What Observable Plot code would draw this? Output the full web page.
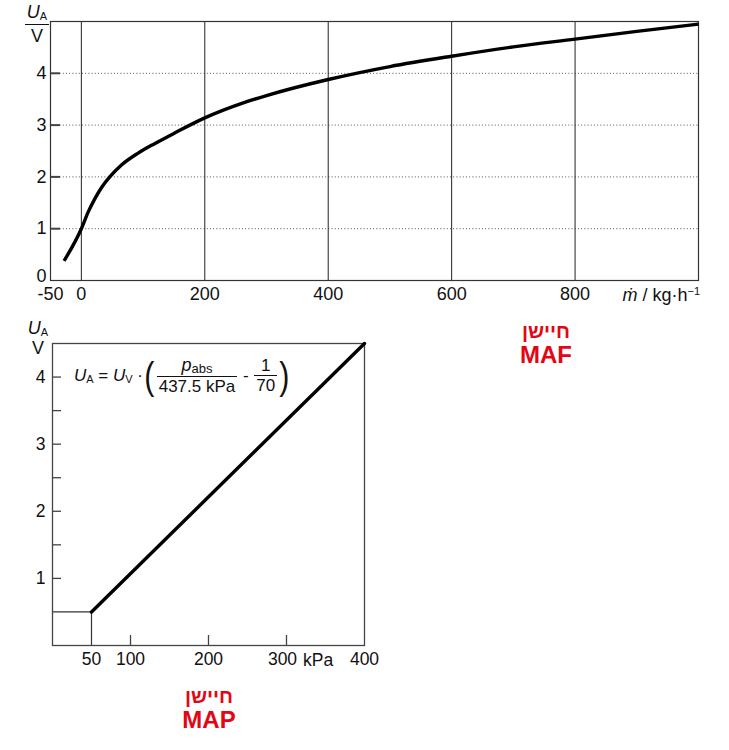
<!DOCTYPE html>
<html>
<head>
<meta charset="utf-8">
<script src="https://cdn.jsdelivr.net/npm/d3@7"></script>
<script src="https://cdn.jsdelivr.net/npm/@observablehq/plot@0.6"></script>
<style>
  body { margin: 0; background: #fff; }
  #root { position: relative; width: 729px; height: 750px; background: #fff; font-family: "Liberation Sans", Arial, sans-serif; color: #111; overflow: hidden; }
  #top svg text { font-size: 18px; }
  #bottom svg text { font-size: 17.5px; }
  .abs { position: absolute; }
  .ylab { text-align: center; font-size: 18px; line-height: 1; }
  .ylab i { font-style: italic; }
  .ylab sub, .formula sub { font-size: 11px; vertical-align: -2px; font-style: normal; }
  .formula { display: flex; align-items: center; font-size: 17px; white-space: nowrap; }
  .frac { display: inline-flex; flex-direction: column; align-items: center; margin: 0 3px; line-height: 1; }
  .frac .num { border-bottom: 1px solid #111; padding: 0 2px 1px 2px; width: 100%; text-align: center; }
  .frac .den { padding-top: 1px; }
  .paren { font-size: 38px; font-weight: 300; line-height: 1; transform: scaleX(0.8); }
  .red { color: #e30613; font-weight: bold; text-align: center; line-height: 1; }
</style>
</head>
<body>
<div id="root">
  <div id="top" class="abs" style="left:0;top:0"></div>
  <div id="bottom" class="abs" style="left:0;top:310px"></div>
</div>
<script>
// ---- MAF (air-mass flow) sensor curve ----
const mafFlow    = [-28, 0, 11, 22, 33, 46, 65, 92, 120, 150, 200, 260, 300, 400, 500, 600, 700, 800, 900, 1000];
const mafVoltage = [0.38, 1.0, 1.32, 1.58, 1.80, 2.00, 2.23, 2.46, 2.65, 2.84, 3.14, 3.42, 3.57, 3.88, 4.13, 4.33, 4.51, 4.66, 4.81, 4.95];
const mafXDomain = [-50, 1000];
const mafYDomain = [0, 5];
const mafXTickLabels = [-50, 0, 200, 400, 600, 800];
const mafXGrid = [0, 200, 400, 600, 800];
const mafYTickLabels = [1, 2, 3, 4];
const mafYZeroLabel = [0];
const mafYGrid = [1, 2, 3, 4];

// ---- MAP (manifold absolute pressure) sensor line ----
const mapPressure = [50, 400];
const mapVoltage  = [0.5, 4.5];
const mapXDomain = [0, 400];
const mapYDomain = [0, 4.5];
const mapXTickLabels = [50, 100, 200, 400];
const mapXTickLabelNearUnit = [300];
const mapXTicks = [100, 200, 300];
const mapYTickLabels = [1, 2, 3, 4];
const mapYTicks = [1, 1.5, 2, 2.5, 3, 3.5, 4];

// ---- texts ----
const mafTitleHe = "חיישן";
const mafTitleEn = "MAF";
const mapTitleHe = "חיישן";
const mapTitleEn = "MAP";

const mafData = mafFlow.map((x, i) => ({x, u: mafVoltage[i]}));
const mapData = mapPressure.map((p, i) => ({p, u: mapVoltage[i]}));
const mapBox = [
  {p: mapXDomain[0], u: mapVoltage[0]},
  {p: mapPressure[0], u: mapVoltage[0]},
  {p: mapPressure[0], u: mapYDomain[0]}
];

const fmt = d => (d < 0 ? "-" + Math.abs(d) : String(d));
const fontStyle = {fontFamily: "'Liberation Sans', Arial, sans-serif", fontSize: "18px", color: "#111", background: "transparent", overflow: "visible"};

const topChart = Plot.plot({
  width: 729, height: 310,
  marginLeft: 50, marginRight: 31, marginTop: 21, marginBottom: 30,
  style: fontStyle,
  x: {domain: mafXDomain, label: null},
  y: {domain: mafYDomain, label: null},
  marks: [
    Plot.ruleY(mafYGrid, {stroke: "#555", strokeDasharray: "1,2.2", strokeWidth: 1}),
    Plot.ruleX(mafXGrid, {stroke: "#222", strokeWidth: 1}),
    Plot.axisY(mafYGrid, {tickSize: -10, tickFormat: () => "", stroke: "#444", strokeWidth: 2}),
    Plot.axisY(mafYTickLabels, {tickSize: 0, tickPadding: 4, tickFormat: fmt}),
    Plot.axisY(mafYZeroLabel, {tickSize: 0, tickPadding: 4, tickFormat: fmt, dy: -4}),
    Plot.axisX(mafXTickLabels, {tickSize: 0, tickPadding: 7, tickFormat: fmt}),
    Plot.frame({stroke: "#333", strokeWidth: 1.2}),
    Plot.line(mafData, {x: "x", y: "u", curve: "monotone-x", stroke: "#000", strokeWidth: 3.4, strokeLinecap: "butt"})
  ]
});
document.getElementById("top").appendChild(topChart);

const bottomChart = Plot.plot({
  width: 380, height: 370,
  marginLeft: 52, marginRight: 16, marginTop: 33, marginBottom: 35,
  style: fontStyle,
  x: {domain: mapXDomain, label: null},
  y: {domain: mapYDomain, label: null},
  marks: [
    Plot.line(mapBox, {x: "p", y: "u", stroke: "#333", strokeWidth: 1.2}),
    Plot.axisY(mapYTicks, {tickSize: -9, tickFormat: () => "", stroke: "#444", strokeWidth: 1.3}),
    Plot.axisY(mapYTickLabels, {tickSize: 0, tickPadding: 7, tickFormat: fmt}),
    Plot.axisX(mapXTicks, {tickSize: -10, tickFormat: () => "", stroke: "#444", strokeWidth: 1.3}),
    Plot.axisX(mapXTickLabels, {tickSize: 0, tickPadding: 7, tickFormat: fmt}),
    Plot.axisX(mapXTickLabelNearUnit, {tickSize: 0, tickPadding: 7, tickFormat: fmt, dx: -4}),
    Plot.frame({stroke: "#444", strokeWidth: 1.3}),
    Plot.line(mapData, {x: "p", y: "u", stroke: "#000", strokeWidth: 3.4})
  ]
});
document.getElementById("bottom").appendChild(bottomChart);

// ---- HTML annotations ----
const root = document.getElementById("root");
function add(html, style, cls = "abs") {
  const d = document.createElement("div");
  d.className = cls;
  d.innerHTML = html;
  Object.assign(d.style, style);
  root.appendChild(d);
  return d;
}
// top y label (fraction U_A / V)
add('<div style="border-bottom:1px solid #111;padding:0 1px 2px 1px"><i>U</i><sub>A</sub></div><div style="padding-top:2px">V</div>',
    {left: "25px", top: "3px", width: "24px"}, "abs ylab");
// top x label
add('<i>ṁ</i> / kg·h<sup style="font-size:11px;vertical-align:6px">−1</sup>',
    {right: "29px", top: "285px", fontSize: "18px"}, "abs");
// bottom y label
add('<div><i>U</i><sub>A</sub></div><div style="padding-top:1px">V</div>',
    {left: "27px", top: "319px", width: "22px"}, "abs ylab");
// bottom x unit
add('kPa', {left: "303px", top: "650px", fontSize: "17.5px"}, "abs");
// formula
add('<span><i>U</i><sub>A</sub>&nbsp;=&nbsp;<i>U</i><sub>V</sub>&nbsp;·</span>' +
    '<span class="paren">(</span>' +
    '<span class="frac"><span class="num"><i style="font-size:18px">p</i><sub style="font-size:13px">abs</sub></span><span class="den">437.5 kPa</span></span>' +
    '<span>&nbsp;-&nbsp;</span>' +
    '<span class="frac"><span class="num">1</span><span class="den">70</span></span>' +
    '<span class="paren">)</span>',
    {left: "74px", top: "356px"}, "abs formula");
// red captions
add(`<div dir="rtl" style="font-size:20px">${mafTitleHe}</div><div style="font-size:24px;margin-top:2px">${mafTitleEn}</div>`,
    {left: "496px", top: "321px", width: "100px"}, "abs red");
add(`<div dir="rtl" style="font-size:20px">${mapTitleHe}</div><div style="font-size:24px;margin-top:2px">${mapTitleEn}</div>`,
    {left: "159px", top: "686px", width: "100px"}, "abs red");
</script>
</body>
</html>
